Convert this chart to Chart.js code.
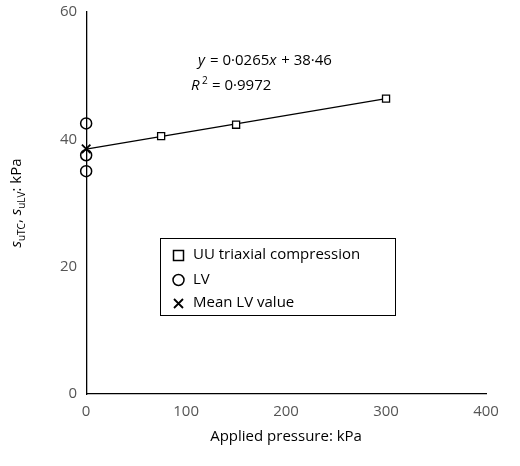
<!DOCTYPE html><html><head><script src="https://cdn.jsdelivr.net/npm/chart.js@4"></script>
<style>body{margin:0;background:#fff}#w{width:520px;height:466px}</style></head><body><div id="w"><canvas id="c"></canvas></div>
<script>
const uuX=[75,150,300], uuY=[40.5,42.3,46.4];
const lvX=[0,0,0], lvY=[42.5,37.5,35.0];
const meanX=[0], meanY=[38.5];
const fitSlope=0.0265, fitIntercept=38.46, fitX=[0,300];
const xTicks=[0,100,200,300,400], yTicks=[0,20,40,60];
const F='"Open Sans"';
const pts=(xs,ys)=>xs.map((x,i)=>({x,y:ys[i]}));
const legend={id:'lg',afterDraw(ch){const c=ch.ctx;c.save();c.strokeStyle='#000';c.lineWidth=1;c.strokeRect(160.5,238.5,235,77);
c.font='15px '+F;c.fillStyle='#000';c.textBaseline='middle';
const ys=[255,280,303];const labels=ch.data.datasets.slice(0,3).map(d=>d.label);
c.lineWidth=1.5;c.strokeRect(173.5,250.5,10,10);
c.beginPath();c.arc(178.5,280,5.5,0,Math.PI*2);c.stroke();
c.lineWidth=1.8;c.beginPath();c.moveTo(174,299);c.lineTo(183,308);c.moveTo(183,299);c.lineTo(174,308);c.stroke();
labels.forEach((t,i)=>c.fillText(t,193,ys[i]));c.restore();}};
const ann={id:'ann',afterDraw(ch){const c=ch.ctx,xs=ch.scales.x,ys=ch.scales.y;c.save();c.fillStyle='#000';c.font='italic 15px '+F;
const x0=xs.getPixelForValue(112),y0=ys.getPixelForValue(51.6);c.fillText('y',x0,y0);c.font='15px '+F;c.fillText(' = 0·0265',x0+8,y0);let w=c.measureText(' = 0·0265').width;c.font='italic 15px '+F;c.fillText('x',x0+8+w,y0);c.font='15px '+F;c.fillText(' + 38·46',x0+16+w,y0);
const x1=xs.getPixelForValue(105),y1=ys.getPixelForValue(47.8);c.font='italic 15px '+F;c.fillText('R',x1,y1);c.font='10px '+F;c.fillText('2',x1+11,y1-6);c.font='15px '+F;c.fillText(' = 0·9972',x1+17,y1);
c.translate(16,ys.getPixelForValue(30));c.rotate(-Math.PI/2);c.textAlign='left';
const parts=[['s','italic 15px'],['uTC','10px',4],[', ','15px'],['s','italic 15px'],['uLV','10px',4],[': kPa','15px']];
let tw=0;for(const p of parts){c.font=p[1]+' '+F;tw+=c.measureText(p[0]).width;}let x=-tw/2;
for(const p of parts){c.font=p[1]+' '+F;c.fillText(p[0],x,5+(p[2]||0));x+=c.measureText(p[0]).width;}
c.restore();}};
new Chart(document.getElementById('c'),{type:'scatter',data:{datasets:[
{label:'UU triaxial compression',data:pts(uuX,uuY),pointStyle:'rect',pointRadius:5,borderColor:'#000',backgroundColor:'#fff',borderWidth:1.3,clip:false},
{label:'LV',data:pts(lvX,lvY),pointStyle:'circle',pointRadius:5.5,borderColor:'#000',backgroundColor:'rgba(0,0,0,0)',borderWidth:1.5,clip:false},
{label:'Mean LV value',data:pts(meanX,meanY),pointStyle:'crossRot',pointRadius:6,borderColor:'#000',borderWidth:1.8,clip:false},
{label:'fit',data:fitX.map(x=>({x,y:fitSlope*x+fitIntercept})),showLine:true,pointRadius:0,borderColor:'#000',borderWidth:1.3,clip:false}
]},options:{responsive:true,maintainAspectRatio:false,animation:false,
layout:{padding:{left:57,right:34,top:6,bottom:16}},
plugins:{tooltip:{enabled:false},legend:{display:false}},
scales:{x:{type:'linear',min:0,max:400,afterBuildTicks:a=>{a.ticks=xTicks.map(v=>({value:v}))},grid:{display:false,drawTicks:true,tickLength:6,tickColor:'#000'},border:{color:'#000',width:1.3},ticks:{color:'#555',font:{family:F,size:15}},title:{display:true,text:'Applied pressure: kPa',color:'#000',font:{family:F,size:15}}},
y:{min:0,max:60,afterBuildTicks:a=>{a.ticks=yTicks.map(v=>({value:v}))},grid:{display:false,drawTicks:true,tickLength:6,tickColor:'#000'},border:{color:'#000',width:1.3},ticks:{color:'#555',font:{family:F,size:15}}}}},
plugins:[legend,ann]});
</script></body></html>
